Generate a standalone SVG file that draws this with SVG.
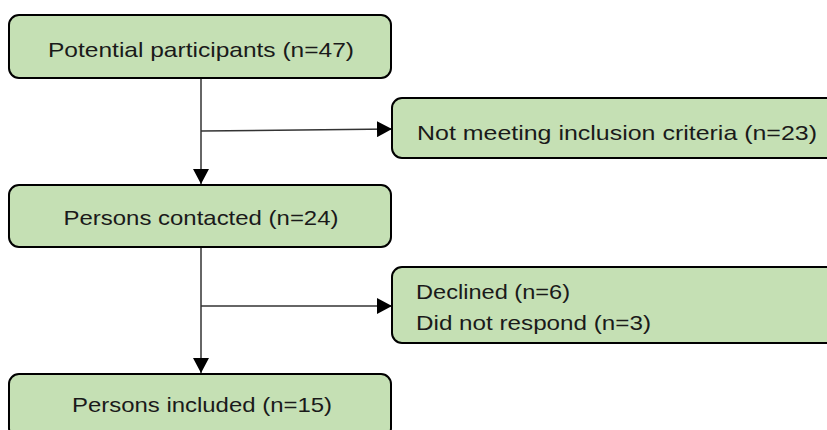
<svg xmlns="http://www.w3.org/2000/svg" width="827" height="430" viewBox="0 0 827 430">
  <defs>
    <marker id="arrow" viewBox="0 0 15 16" refX="15" refY="8" markerWidth="15" markerHeight="16" markerUnits="userSpaceOnUse" orient="auto">
      <path d="M0,0 L15,8 L0,16 Z" fill="#000"/>
    </marker>
  </defs>
  <style>
    .box { fill: #c5e0b4; stroke: #000; stroke-width: 2; }
    .lbl { font-family: "Liberation Sans", Arial, sans-serif; font-size: 21px; fill: #1a1a1a; }
    .mid { text-anchor: middle; }
    .edge { stroke: #333; stroke-width: 1.5; fill: none; marker-end: url(#arrow); }
  </style>
  <rect width="827" height="430" fill="#fff"/>

  <g id="connectors">
    <line class="edge" x1="201" y1="78" x2="201" y2="184"/>
    <line class="edge" x1="201" y1="131" x2="392" y2="129"/>
    <line class="edge" x1="201" y1="247" x2="201" y2="373"/>
    <line class="edge" x1="201" y1="306" x2="392" y2="306"/>
  </g>

  <g id="potential">
    <rect class="box" x="9" y="15" width="382" height="63" rx="10"/>
    <text class="lbl mid" x="201" y="57" textLength="306" lengthAdjust="spacingAndGlyphs">Potential participants (n=47)</text>
  </g>

  <g id="excluded">
    <rect class="box" x="392" y="98" width="460" height="60" rx="10"/>
    <text class="lbl" x="417" y="140" textLength="400" lengthAdjust="spacingAndGlyphs">Not meeting inclusion criteria (n=23)</text>
  </g>

  <g id="contacted">
    <rect class="box" x="9" y="185" width="382" height="62" rx="10"/>
    <text class="lbl mid" x="201" y="225" textLength="275" lengthAdjust="spacingAndGlyphs">Persons contacted (n=24)</text>
  </g>

  <g id="nonresponse">
    <rect class="box" x="392" y="267" width="460" height="76" rx="10"/>
    <text class="lbl" x="416" y="299" textLength="154" lengthAdjust="spacingAndGlyphs">Declined (n=6)</text>
    <text class="lbl" x="416" y="330" textLength="235" lengthAdjust="spacingAndGlyphs">Did not respond (n=3)</text>
  </g>

  <g id="included">
    <rect class="box" x="9" y="374" width="382" height="64" rx="10"/>
    <text class="lbl mid" x="202" y="412" textLength="260" lengthAdjust="spacingAndGlyphs">Persons included (n=15)</text>
  </g>
</svg>
